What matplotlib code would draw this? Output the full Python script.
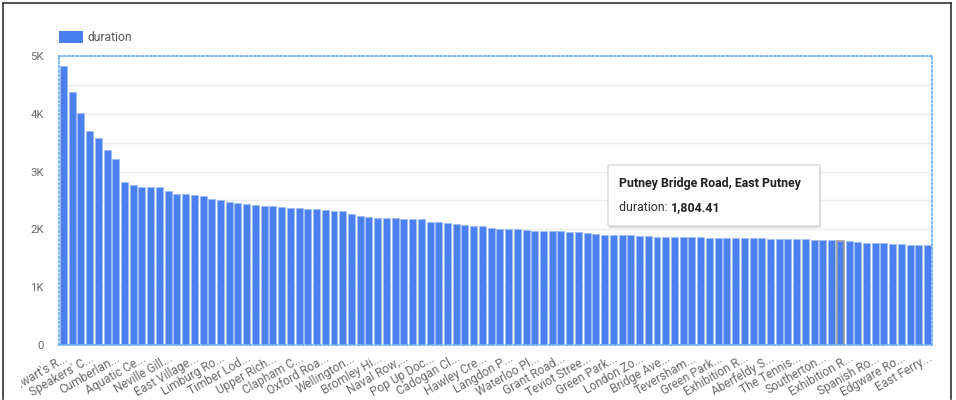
import matplotlib
matplotlib.use("Agg")
import matplotlib.pyplot as plt
from matplotlib.patches import Rectangle, FancyBboxPatch
from matplotlib.lines import Line2D
from matplotlib.ticker import FuncFormatter, MultipleLocator
from matplotlib.transforms import Bbox, TransformedBbox

plt.rcParams['font.family'] = ['Roboto', 'DejaVu Sans']

# Average trip duration per start station, sorted descending
durations = [
    4832, 4369, 4005, 3700, 3579, 3371, 3220, 2827, 2769, 2740,
    2740, 2738, 2660, 2619, 2608, 2591, 2573, 2527, 2510, 2480,
    2452, 2440, 2423, 2411, 2395, 2393, 2376, 2374, 2348, 2346,
    2336, 2319, 2317, 2267, 2238, 2220, 2203, 2192, 2190, 2181,
    2180, 2178, 2134, 2132, 2116, 2088, 2071, 2059, 2057, 2030,
    2013, 2012, 2010, 1995, 1978, 1977, 1976, 1967, 1950, 1948,
    1932, 1920, 1908, 1907, 1906, 1905, 1891, 1890, 1873, 1872,
    1872, 1871, 1870, 1858, 1857, 1856, 1855, 1854, 1846, 1845,
    1845, 1834, 1834, 1833, 1833, 1832, 1822, 1818, 1806, 1804.41,
    1790, 1788, 1770, 1769, 1768, 1752, 1751, 1735, 1734, 1733,
]

# Station names shown on every third bar
tick_labels = [
    "Stewart's R...", "Speakers' C...", "Cumberlan...", "Aquatic Ce...",
    "Neville Gill...", "East Village...", "Limburg Ro...", "Timber Lod...",
    "Upper Rich...", "Clapham C...", "Oxford Roa...", "Wellington...",
    "Bromley Hi...", "Naval Row,...", "Pop Up Doc...", "Cadogan Cl...",
    "Hawley Cre...", "Langdon P...", "Waterloo Pl...", "Grant Road...",
    "Teviot Stree...", "Green Park...", "London Zo...", "Bridge Ave...",
    "Teversham...", "Green Park...", "Exhibition R...", "Aberfeldy S...",
    "The Tennis...", "Southerton...", "Exhibition R...", "Spanish Ro...",
    "Edgware Ro...", "East Ferry...",
]
label_step = 3

series_name = "duration"
hover_index = 89
hover_station = "Putney Bridge Road, East Putney"

BLUE = "#4a80ef"
EDGE = "#9fbdf5"
TEXT = "#6a6a6a"

W, H = 956, 400
fig = plt.figure(figsize=(W / 100, H / 100), dpi=100)

def fx(px):
    return px / W

def fy(py):
    return 1 - py / H

ax = fig.add_axes([fx(59), fy(344.8), fx(932) - fx(59), fy(56) - fy(344.8)])

x = list(range(len(durations)))
bars = ax.bar(x, durations, width=0.8, color=BLUE, edgecolor=EDGE,
              linewidth=0.6, zorder=3)
hb = bars[hover_index]
hb.set_edgecolor("#9e9e9e")
hb.set_linewidth(1.2)

ax.set_xlim(-0.5, len(durations) - 0.5)
ax.set_ylim(0, 5000)

# Grid every 500, labels every 1000
ax.yaxis.set_major_locator(MultipleLocator(1000))
ax.yaxis.set_minor_locator(MultipleLocator(500))
ax.grid(axis="y", which="both", color="#ececec", linewidth=1.0, zorder=0)
ax.set_axisbelow(True)
ax.yaxis.set_major_formatter(
    FuncFormatter(lambda v, p: "0" if v == 0 else f"{int(v / 1000)}K"))
ax.tick_params(axis="y", which="both", length=0, pad=11,
               labelsize=8.2, labelcolor=TEXT)

tick_pos = x[::label_step]
ax.set_xticks(tick_pos)
ax.set_xticklabels(tick_labels, rotation=30, ha="right", va="top",
                   rotation_mode="anchor", fontsize=8.6, color=TEXT)
ax.tick_params(axis="x", length=0, pad=5)

# The chart card clips the category labels at its inner left edge
card_clip = TransformedBbox(Bbox([[fx(21), 0], [1, 1]]), fig.transFigure)
for t in ax.get_xticklabels():
    t.set_clip_box(card_clip)
    t.set_clip_on(True)

for s in ax.spines.values():
    s.set_color("#74b4f2")
    s.set_linestyle((0, (1, 1.4)))
    s.set_linewidth(1.3)
    s.set_zorder(5)

# Legend swatch and label
fig.patches.append(Rectangle((fx(59), fy(43.3)), fx(83) - fx(59),
                             fy(31.3) - fy(43.3), transform=fig.transFigure,
                             facecolor=BLUE, edgecolor="none"))
fig.text(fx(88), fy(37.5), series_name, ha="left", va="center",
         fontsize=8.7, color="#555555")

# Hover tooltip
tx0, ty0, tx1, ty1 = 608, 165, 820, 226
shadow = FancyBboxPatch((fx(tx0 + 1), fy(ty1 + 2)), fx(tx1) - fx(tx0),
                        fy(ty0) - fy(ty1),
                        boxstyle="round,pad=0,rounding_size=0.002",
                        transform=fig.transFigure, facecolor="#000000",
                        alpha=0.12, edgecolor="none", zorder=9)
fig.patches.append(shadow)
box = FancyBboxPatch((fx(tx0), fy(ty1)), fx(tx1) - fx(tx0), fy(ty0) - fy(ty1),
                     boxstyle="round,pad=0,rounding_size=0.002",
                     transform=fig.transFigure, facecolor="white",
                     edgecolor="#cfcfcf", linewidth=0.8, zorder=10)
fig.patches.append(box)
fig.text(fx(619), fy(183), hover_station, ha="left", va="center",
         fontsize=8.9, fontweight="bold", color="#202020", zorder=11)
lab = fig.text(fx(619), fy(207.5), f"{series_name}: ", ha="left",
               va="center", fontsize=8.9, color="#303030", zorder=11)
fig.canvas.draw()
bb = lab.get_window_extent()
fig.text(bb.x1 / fig.dpi / fig.get_figwidth(), fy(207.5),
         f"{durations[hover_index]:,.2f}", ha="left", va="center",
         fontsize=8.9, fontweight="bold", color="#202020", zorder=11)

# Outer frame
for (xa, ya, xb, yb) in [(2.5, 2.5, 2.5, 399), (2.5, 2.5, 950.5, 2.5),
                         (950.5, 2.5, 950.5, 399)]:
    fig.lines.append(Line2D([fx(xa), fx(xb)], [fy(ya), fy(yb)],
                            transform=fig.transFigure, color="#333333",
                            linewidth=1.2))

fig.savefig("out.png", dpi=100)
